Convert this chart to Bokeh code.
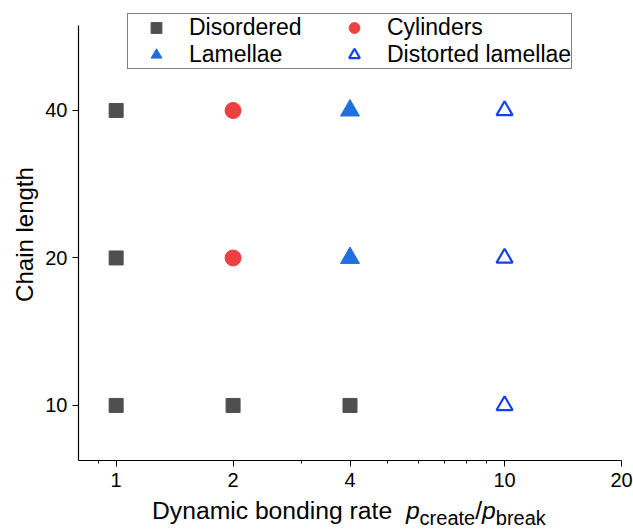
from bokeh.plotting import figure
from bokeh.models import Range1d, FixedTicker, Legend, LegendItem, Div
from bokeh.layouts import column
from bokeh.embed import file_html
from bokeh.resources import INLINE

# Data
disordered_x = [1, 1, 1, 2, 4]
disordered_y = [10, 20, 40, 10, 10]
cylinders_x = [2, 2]
cylinders_y = [20, 40]
lamellae_x = [4, 4]
lamellae_y = [20, 40]
distorted_x = [10, 10, 10]
distorted_y = [10, 20, 40]
x_ticks = [1, 2, 4, 10, 20]
x_minor = [0.9, 3, 5, 6, 7, 8, 9]
y_ticks = [10, 20, 40]
x_label_main = "Dynamic bonding rate"

FONT = "Liberation Sans"

p = figure(width=633, height=492, x_axis_type="log", y_axis_type="log",
           x_range=Range1d(0.8, 20), y_range=Range1d(7.72, 64.6),
           output_backend="svg", toolbar_location=None,
           min_border_left=78, min_border_right=12, min_border_top=8, min_border_bottom=32)
p.outline_line_color = None
p.xgrid.visible = False
p.ygrid.visible = False
p.background_fill_color = "white"
p.border_fill_color = "white"

r1 = p.scatter(disordered_x, disordered_y, marker="square", size=14, fill_color="#4f4f4f", line_color="#4f4f4f")
r2 = p.scatter(cylinders_x, cylinders_y, marker="circle", size=16, fill_color="#ef4040", line_color="#ef4040")
r3 = p.scatter(lamellae_x, lamellae_y, marker="triangle", size=19, fill_color="#1f6fe0", line_color="#1f6fe0")
r4 = p.scatter(distorted_x, distorted_y, marker="triangle", size=16, fill_color="white", line_color="#1440f0", line_width=2.2)

for ax in (p.xaxis[0], p.yaxis[0]):
    ax.axis_line_color = "black"
    ax.axis_line_width = 1.2
    ax.major_tick_line_color = "black"
    ax.minor_tick_line_color = "black"
    ax.major_tick_out = 6
    ax.major_tick_in = 0
    ax.minor_tick_out = 3
    ax.minor_tick_in = 0
    ax.major_label_text_font = FONT
    ax.major_label_text_font_size = "20px"
    ax.major_label_text_color = "black"
    ax.axis_label_text_font = FONT
    ax.axis_label_text_font_style = "normal"
    ax.axis_label_text_color = "black"

p.xaxis[0].ticker = FixedTicker(ticks=x_ticks, minor_ticks=x_minor)
p.yaxis[0].ticker = FixedTicker(ticks=y_ticks, minor_ticks=[])
p.xaxis[0].major_label_overrides = {t: str(t) for t in x_ticks}
p.yaxis[0].major_label_overrides = {t: str(t) for t in y_ticks}
p.yaxis[0].bounds = (7.72, 59.6)
p.xaxis[0].major_label_standoff = 6
p.yaxis[0].major_label_standoff = 5
p.yaxis[0].axis_label = "Chain length"
p.yaxis[0].axis_label_text_font_size = "24px"
p.yaxis[0].axis_label_standoff = 4

legend = Legend(items=[
    LegendItem(label="Disordered", renderers=[r1]),
    LegendItem(label="Cylinders", renderers=[r2]),
    LegendItem(label="Lamellae", renderers=[r3]),
    LegendItem(label="Distorted lamellae", renderers=[r4]),
], location=(49, 391), ncols=2, orientation="horizontal")
legend.border_line_color = "black"
legend.border_line_width = 1
legend.label_text_font = FONT
legend.label_text_font_size = "23px"
legend.label_text_color = "black"
legend.label_text_baseline = "middle"
legend.background_fill_alpha = 1
legend.padding = 0
legend.spacing = 0
legend.margin = 0
legend.glyph_width = 56
legend.glyph_height = 27
legend.label_height = 27
legend.label_width = 137
legend.label_standoff = 5
p.add_layout(legend, "center")

sub = "font-size:20px; position:relative; top:6px;"
html = (f'<span style="white-space:nowrap;">{x_label_main}&nbsp; '
        f'<i>p</i><span style="{sub}">create</span>/<i>p</i><span style="{sub}">break</span></span>')
div = Div(text=html, width=633, height=39, margin=(0, 0, 0, 0),
          styles={"font-family": FONT, "font-size": "24.7px", "color": "black",
                  "padding-left": "152px", "padding-top": "4px", "line-height": "30px",
                  "background-color": "white"})

layout = column(p, div, spacing=0, margin=(0, 0, 0, 0))
open("out.html", "w").write(file_html(layout, INLINE))
